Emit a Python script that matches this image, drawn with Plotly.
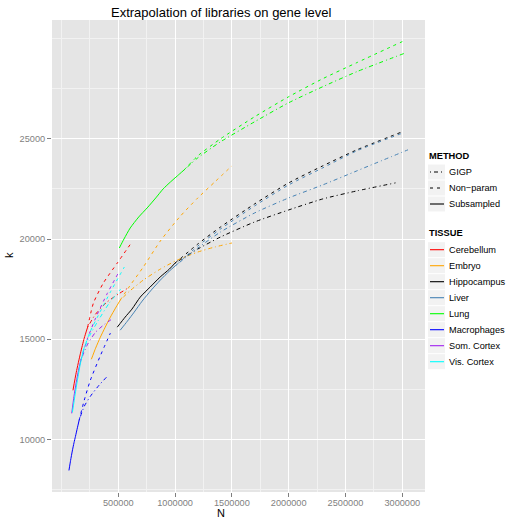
import plotly.graph_objects as go

# ---------------- data ----------------
TISSUES = ["Cerebellum", "Embryo", "Hippocampus", "Liver", "Lung",
           "Macrophages", "Som. Cortex", "Vis. Cortex"]
METHODS = ["GIGP", "Non\u2212param", "Subsampled"]

CEREBELLUM_SUB_N = [101000, 130000, 167000, 200000, 230000]
CEREBELLUM_SUB_K = [12450, 13350, 14300, 15050, 15600]
CEREBELLUM_NP_N = [230000, 281000, 368000, 491000, 614000]
CEREBELLUM_NP_K = [15600, 16800, 17800, 18800, 19800]
CEREBELLUM_GIGP_N = [230000, 300000, 400000, 500000, 585000]
CEREBELLUM_GIGP_K = [15600, 16250, 16850, 17250, 17550]

EMBRYO_SUB_N = [263000, 300000, 342000, 385000, 430000, 475000, 517000]
EMBRYO_SUB_K = [14000, 14550, 15100, 15600, 16100, 16550, 16950]
EMBRYO_NP_N = [517000, 600000, 720000, 870000, 1040000, 1200000, 1350000, 1500000]
EMBRYO_NP_K = [16950, 17650, 18600, 19900, 21100, 22050, 22850, 23650]
EMBRYO_GIGP_N = [517000, 600000, 720000, 870000, 1020000, 1200000, 1350000, 1500000]
EMBRYO_GIGP_K = [16950, 17400, 17950, 18500, 18950, 19350, 19600, 19800]

HIPPO_SUB_N = [491000, 560000, 620000, 693000, 780000, 868000, 950000, 1000000]
HIPPO_SUB_K = [15600, 16100, 16500, 17100, 17600, 18100, 18500, 18800]
HIPPO_NP_N = [1000000, 1200000, 1400000, 1700000, 2000000, 2300000, 2600000, 3000000]
HIPPO_NP_K = [18800, 19750, 20600, 21750, 22800, 23650, 24450, 25350]
HIPPO_GIGP_N = [1000000, 1200000, 1400000, 1700000, 2000000, 2300000, 2600000, 2940000]
HIPPO_GIGP_K = [18800, 19500, 20100, 20850, 21450, 22000, 22400, 22800]

LIVER_SUB_N = [517000, 580000, 640000, 710000, 790000, 870000, 950000, 1010000]
LIVER_SUB_K = [15450, 15900, 16350, 16900, 17450, 17950, 18400, 18700]
LIVER_NP_N = [1010000, 1200000, 1400000, 1700000, 2000000, 2300000, 2600000, 3010000]
LIVER_NP_K = [18700, 19650, 20500, 21650, 22700, 23550, 24400, 25300]
LIVER_GIGP_N = [1010000, 1200000, 1400000, 1700000, 2000000, 2300000, 2600000, 3050000]
LIVER_GIGP_K = [18700, 19550, 20350, 21300, 22050, 22700, 23400, 24450]

LUNG_SUB_N = [509000, 550000, 605000, 680000, 754000, 830000, 895000, 960000, 1020000, 1080000]
LUNG_SUB_K = [19550, 20000, 20550, 21100, 21550, 22050, 22500, 22850, 23150, 23450]
LUNG_NP_N = [1080000, 1200000, 1400000, 1700000, 2000000, 2300000, 2600000, 3000000]
LUNG_NP_K = [23450, 24150, 25000, 26100, 27100, 28000, 28800, 29850]
LUNG_GIGP_N = [1080000, 1200000, 1400000, 1700000, 2000000, 2300000, 2600000, 3035000]
LUNG_GIGP_K = [23450, 24050, 24850, 25850, 26800, 27600, 28350, 29300]

MACRO_SUB_N = [65600, 80000, 95000, 110000, 123000, 140000, 155000]
MACRO_SUB_K = [8450, 8950, 9420, 9830, 10150, 10580, 10950]
MACRO_NP_N = [155000, 200000, 254000, 340000, 430000]
MACRO_NP_K = [10950, 11950, 12950, 14150, 15300]
MACRO_GIGP_N = [155000, 200000, 254000, 330000, 412000]
MACRO_GIGP_K = [10950, 11650, 12150, 12700, 13200]

SOM_SUB_N = [90000, 110000, 130000, 150000, 170000]
SOM_SUB_K = [11300, 12150, 12850, 13450, 13950]
SOM_NP_N = [170000, 230000, 300000, 400000, 500000]
SOM_NP_K = [13950, 15050, 16050, 17250, 18300]
SOM_GIGP_N = [170000, 230000, 300000, 380000, 456000]
SOM_GIGP_K = [13950, 14750, 15350, 15750, 16050]

VIS_SUB_N = [96000, 120000, 140000, 165000, 193000]
VIS_SUB_K = [11350, 12250, 12950, 13750, 14450]
VIS_NP_N = [193000, 250000, 316000, 430000, 553000]
VIS_NP_K = [14450, 15350, 16100, 17350, 18600]
VIS_GIGP_N = [193000, 250000, 320000, 420000, 520000]
VIS_GIGP_K = [14450, 15200, 15900, 16800, 17500]

X_TICKS = [500000, 1000000, 1500000, 2000000, 2500000, 3000000]
X_MINOR = [0, 250000, 750000, 1250000, 1750000, 2250000, 2750000]
Y_TICKS = [10000, 15000, 20000, 25000]
Y_MINOR = [7500, 12500, 17500, 22500, 27500, 30000]

COLORS = {
    "Cerebellum": "#FF0000", "Embryo": "#FFA500", "Hippocampus": "#000000",
    "Liver": "#4682B4", "Lung": "#00FF00", "Macrophages": "#0000FF",
    "Som. Cortex": "#A020F0", "Vis. Cortex": "#00FFFF",
}
DASH = {"GIGP": "1px,3px,4px,3px", "Non\u2212param": "3px,4px", "Subsampled": "solid"}

SERIES = {
    "Cerebellum": [(CEREBELLUM_SUB_N, CEREBELLUM_SUB_K), (CEREBELLUM_NP_N, CEREBELLUM_NP_K), (CEREBELLUM_GIGP_N, CEREBELLUM_GIGP_K)],
    "Embryo": [(EMBRYO_SUB_N, EMBRYO_SUB_K), (EMBRYO_NP_N, EMBRYO_NP_K), (EMBRYO_GIGP_N, EMBRYO_GIGP_K)],
    "Hippocampus": [(HIPPO_SUB_N, HIPPO_SUB_K), (HIPPO_NP_N, HIPPO_NP_K), (HIPPO_GIGP_N, HIPPO_GIGP_K)],
    "Liver": [(LIVER_SUB_N, LIVER_SUB_K), (LIVER_NP_N, LIVER_NP_K), (LIVER_GIGP_N, LIVER_GIGP_K)],
    "Lung": [(LUNG_SUB_N, LUNG_SUB_K), (LUNG_NP_N, LUNG_NP_K), (LUNG_GIGP_N, LUNG_GIGP_K)],
    "Macrophages": [(MACRO_SUB_N, MACRO_SUB_K), (MACRO_NP_N, MACRO_NP_K), (MACRO_GIGP_N, MACRO_GIGP_K)],
    "Som. Cortex": [(SOM_SUB_N, SOM_SUB_K), (SOM_NP_N, SOM_NP_K), (SOM_GIGP_N, SOM_GIGP_K)],
    "Vis. Cortex": [(VIS_SUB_N, VIS_SUB_K), (VIS_NP_N, VIS_NP_K), (VIS_GIGP_N, VIS_GIGP_K)],
}

# ---------------- figure ----------------
W, H = 506, 519
L, R, T, B = 52, 81, 20, 27
PW, PH = W - L - R, H - T - B
FONT = "Liberation Sans, Arial, Helvetica, sans-serif"


def px_x(p):
    return (p - L) / PW


def px_y(p):
    return (H - B - p) / PH


fig = go.Figure()
for tissue in TISSUES:
    sub, npar, gigp = SERIES[tissue]
    for (xs, ys), method in ((npar, "Non\u2212param"), (gigp, "GIGP"), (sub, "Subsampled")):
        fig.add_trace(go.Scatter(
            x=xs, y=ys, mode="lines", showlegend=False,
            name=f"{tissue} {method}",
            line=dict(color=COLORS[tissue], width=1.0, dash=DASH[method], shape="spline", smoothing=0.6),
        ))

shapes = []
annotations = []

# title and axis titles
annotations.append(dict(text="Extrapolation of libraries on gene level", xref="paper", yref="paper",
                        x=px_x(221), y=px_y(13), xanchor="center", yanchor="middle", showarrow=False,
                        font=dict(family=FONT, size=13, color="#000000")))
annotations.append(dict(text="N", xref="paper", yref="paper", x=px_x(221), y=px_y(513),
                        xanchor="center", yanchor="middle", showarrow=False, borderpad=0,
                        font=dict(family=FONT, size=11, color="#000000")))
annotations.append(dict(text="k", xref="paper", yref="paper", x=px_x(9), y=px_y(255),
                        xanchor="center", yanchor="middle", showarrow=False, textangle=-90,
                        font=dict(family=FONT, size=11, color="#000000")))

# manual legend (ggplot style)
def legend_title(text, yc):
    annotations.append(dict(text=f"<b>{text}</b>", xref="paper", yref="paper", x=px_x(427), y=px_y(yc),
                            xanchor="left", yanchor="middle", showarrow=False,
                            font=dict(family=FONT, size=9.3, color="#000000")))


def legend_item(text, yc, color, dash):
    shapes.append(dict(type="rect", xref="paper", yref="paper", x0=px_x(428), x1=px_x(445),
                       y0=px_y(yc + 7.5), y1=px_y(yc - 7.5), fillcolor="#F2F2F2", line=dict(width=0),
                       layer="below"))
    shapes.append(dict(type="line", xref="paper", yref="paper", x0=px_x(430), x1=px_x(444),
                       y0=px_y(yc), y1=px_y(yc), line=dict(color=color, width=1.1, dash=dash)))
    annotations.append(dict(text=text, xref="paper", yref="paper", x=px_x(447), y=px_y(yc),
                            xanchor="left", yanchor="middle", showarrow=False,
                            font=dict(family=FONT, size=9.2, color="#000000")))


legend_title("METHOD", 155.7)
for i, m in enumerate(METHODS):
    legend_item(m, 172 + 16 * i, "#000000", DASH[m])
legend_title("TISSUE", 233.5)
for i, t in enumerate(TISSUES):
    legend_item(t, 249.7 + 16 * i, COLORS[t], "solid")

axis_common = dict(
    showline=False, zeroline=False, ticks="outside", ticklen=4, tickwidth=1, tickcolor="#7F7F7F",
    tickfont=dict(family=FONT, size=9.2, color="#7F7F7F"),
    showgrid=True, gridcolor="#FFFFFF", gridwidth=1.2,
)

fig.update_layout(
    width=W, height=H, margin=dict(l=L, r=R, t=T, b=B, pad=0),
    paper_bgcolor="#FFFFFF", plot_bgcolor="#E5E5E5",
    showlegend=False, shapes=shapes, annotations=annotations,
    font=dict(family=FONT),
    xaxis=dict(range=[-83600, 3199800], tickvals=X_TICKS, ticktext=[str(v) for v in X_TICKS],
               ticklabelstandoff=-2,
               minor=dict(tickvals=X_MINOR, showgrid=True, gridcolor="#F2F2F2", gridwidth=0.6, ticks=""),
               **axis_common),
    yaxis=dict(range=[7375, 30928], tickvals=Y_TICKS, ticktext=[str(v) for v in Y_TICKS],
               minor=dict(tickvals=Y_MINOR, showgrid=True, gridcolor="#F2F2F2", gridwidth=0.6, ticks=""),
               **axis_common),
)

fig.write_html("out.html")
